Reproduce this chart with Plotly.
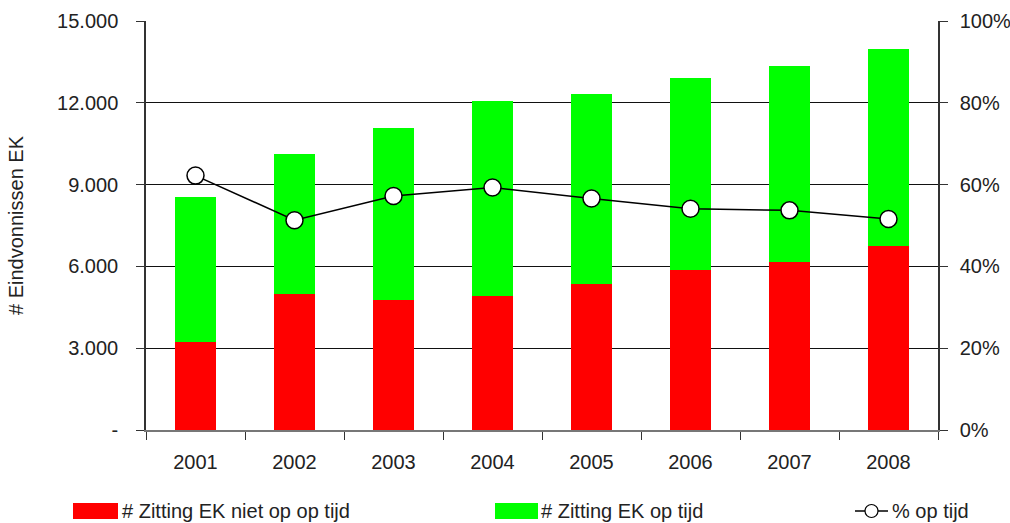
import plotly.graph_objects as go

years = ["2001", "2002", "2003", "2004", "2005", "2006", "2007", "2008"]
niet_op_tijd = [3210, 4970, 4750, 4900, 5340, 5880, 6170, 6760]
totaal = [8530, 10140, 11060, 12050, 12340, 12900, 13340, 13960]
op_tijd = [t - n for t, n in zip(totaal, niet_op_tijd)]
pct_op_tijd = [62.2, 51.3, 57.2, 59.3, 56.6, 54.1, 53.7, 51.6]

left_ticks = [0, 3000, 6000, 9000, 12000, 15000]
left_labels = ["-", "3.000", "6.000", "9.000", "12.000", "15.000"]
right_ticks = [0, 20, 40, 60, 80, 100]
right_labels = ["0%", "20%", "40%", "60%", "80%", "100%"]

legend_names = ["# Zitting EK niet op op tijd", "# Zitting EK op tijd", "% op tijd"]

RED = "#ff0000"
GREEN = "#00ff00"
FONT = "Liberation Sans"
TXT = "#222222"
FS = 20

fig = go.Figure()
fig.add_trace(go.Bar(x=years, y=niet_op_tijd, name=legend_names[0],
                     marker=dict(color=RED, line=dict(width=0)), yaxis="y"))
fig.add_trace(go.Bar(x=years, y=op_tijd, name=legend_names[1],
                     marker=dict(color=GREEN, line=dict(width=0)), yaxis="y"))
fig.add_trace(go.Scatter(x=years, y=pct_op_tijd, name=legend_names[2], mode="lines+markers",
                         line=dict(color="black", width=1.5),
                         marker=dict(symbol="circle", size=17, color="white",
                                     line=dict(color="black", width=1.5)),
                         yaxis="y2"))

fig.update_layout(
    width=1010, height=523,
    margin=dict(l=146, r=72, t=21, b=93, autoexpand=False),
    barmode="stack", bargap=0.585,
    plot_bgcolor="white", paper_bgcolor="white",
    showlegend=False,
    font=dict(family=FONT, size=FS, color=TXT),
    xaxis=dict(type="category", showgrid=False, ticks="outside", tickson="boundaries",
               ticklen=8, tickcolor="#333", showline=True, linecolor="#777", linewidth=1.5,
               ticklabelstandoff=13, tickfont=dict(size=FS, color=TXT), range=[-0.5, 7.5],
               automargin=False),
    yaxis=dict(range=[0, 15000], tickvals=left_ticks, ticktext=left_labels,
               showgrid=True, gridcolor="#111", gridwidth=1, zeroline=False,
               showline=True, linecolor="#333", linewidth=1.5,
               ticks="outside", ticklen=8, tickcolor="#333", ticklabelstandoff=14,
               automargin=False,
               title=dict(text="# Eindvonnissen EK", standoff=28, font=dict(size=FS, color=TXT))),
    yaxis2=dict(range=[0, 100], overlaying="y", side="right", tickvals=right_ticks,
                ticktext=right_labels, showgrid=False, zeroline=False,
                showline=True, linecolor="#333", linewidth=1.5, automargin=False,
                ticks="outside", ticklen=8, tickcolor="#333", ticklabelstandoff=8),
)

# custom legend (paper coordinates)
W, H = 1010, 523
pw = W - 146 - 72
ph = H - 21 - 93
def px(x):
    return (x - 146) / pw
def py(y):
    return (H - 93 - y) / ph

legend_y = 511
fig.add_shape(type="rect", xref="paper", yref="paper", x0=px(73), x1=px(118),
              y0=py(legend_y + 8), y1=py(legend_y - 8), fillcolor=RED, line=dict(width=0))
fig.add_annotation(xref="paper", yref="paper", x=px(120), y=py(legend_y), text=legend_names[0],
                   showarrow=False, xanchor="left", yanchor="middle", font=dict(size=FS, color=TXT))
fig.add_shape(type="rect", xref="paper", yref="paper", x0=px(495), x1=px(538),
              y0=py(legend_y + 8), y1=py(legend_y - 8), fillcolor=GREEN, line=dict(width=0))
fig.add_annotation(xref="paper", yref="paper", x=px(539), y=py(legend_y), text=legend_names[1],
                   showarrow=False, xanchor="left", yanchor="middle", font=dict(size=FS, color=TXT))
fig.add_shape(type="line", xref="paper", yref="paper", x0=px(855), x1=px(888),
              y0=py(legend_y), y1=py(legend_y), line=dict(color="black", width=1.5))
fig.add_shape(type="circle", xref="paper", yref="paper", x0=px(865), x1=px(878),
              y0=py(legend_y + 6.5), y1=py(legend_y - 6.5), fillcolor="white",
              line=dict(color="black", width=1.2))
fig.add_annotation(xref="paper", yref="paper", x=px(890), y=py(legend_y), text=legend_names[2],
                   showarrow=False, xanchor="left", yanchor="middle", font=dict(size=FS, color=TXT))

fig.write_html("out.html",
               config={"displayModeBar": False, "responsive": False},
               post_script="document.body.style.margin='0';document.body.style.overflow='hidden';")
